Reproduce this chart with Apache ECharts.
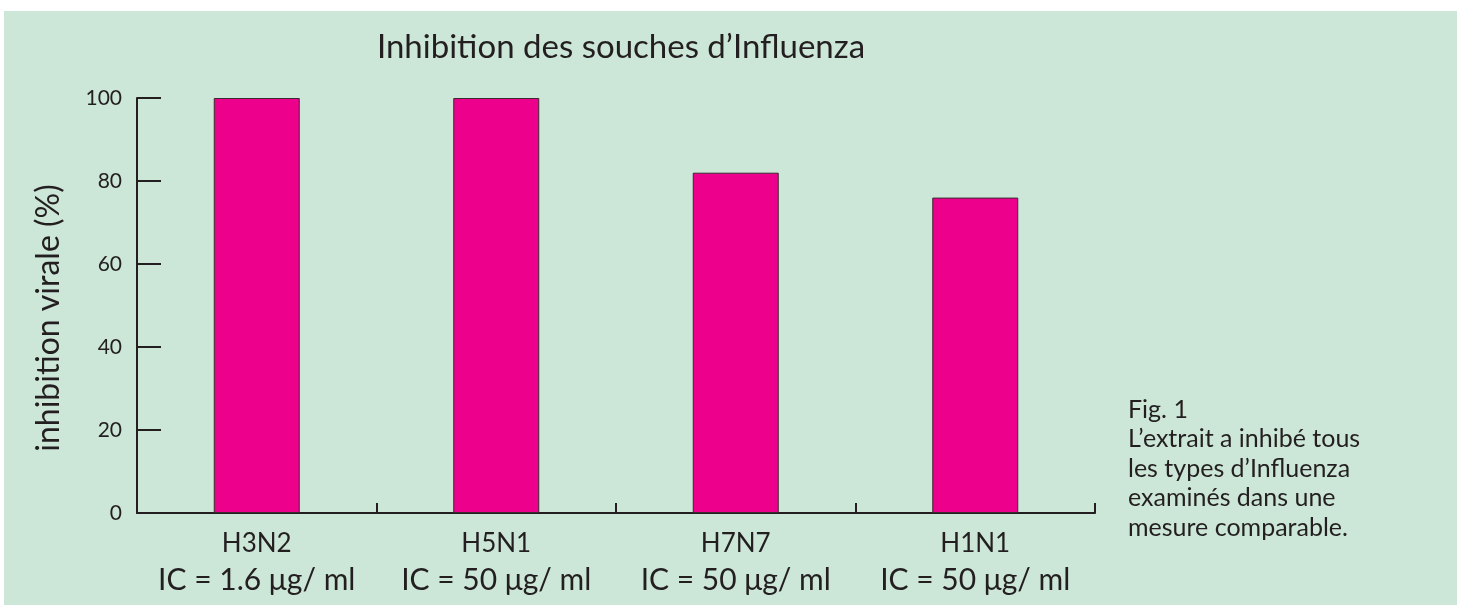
<!DOCTYPE html>
<html>
<head>
<meta charset="utf-8">
<script src="https://cdn.jsdelivr.net/npm/echarts@6/dist/echarts.min.js"></script>
<style>
  html, body { margin: 0; padding: 0; background: #ffffff; }
  #chart { width: 1457px; height: 605px; }
</style>
</head>
<body>
<div id="chart"></div>
<script>
// souches testées
var strains = ['H3N2', 'H5N1', 'H7N7', 'H1N1']
var icLabels = ['IC = 1.6 μg/ ml', 'IC = 50 μg/ ml', 'IC = 50 μg/ ml', 'IC = 50 μg/ ml']
var inhibition = [100, 100, 82, 76]
var yTicks = [0, 20, 40, 60, 80, 100]
var noteLines = ['Fig. 1', 'L’extrait a inhibé tous', 'les types d’Influenza', 'examinés dans une', 'mesure comparable.']

var ink = '#231f20'
var font = 'Lato'

var chart = echarts.init(document.getElementById('chart'))

var option = {
    animation: false,
    backgroundColor: 'transparent',
    title: {
        text: 'Inhibition des souches d’Influenza',
        left: 616,
        textAlign: 'center',
        top: 26,
        textStyle: {color: ink, fontFamily: font, fontWeight: 'normal', fontSize: 33}
    },
    grid: {left: 137, right: 362, top: 98, bottom: 92},
    xAxis: {
        type: 'category',
        data: strains,
        axisLine: {lineStyle: {color: ink, width: 2}},
        axisTick: {show: true, inside: true, length: 10, lineStyle: {color: ink, width: 2}},
        axisLabel: {
            margin: 14,
            formatter: function (v, i) {
                return '{a|' + v + '}\n{b|' + icLabels[i] + '}'
            },
            rich: {
                a: {fontFamily: font, fontSize: 26, color: ink, lineHeight: 34},
                b: {fontFamily: font, fontSize: 30, color: ink, lineHeight: 38}
            }
        }
    },
    yAxis: {
        type: 'value',
        min: 0,
        max: 100,
        interval: 20,
        name: 'inhibition virale (%)',
        nameLocation: 'middle',
        nameGap: 72,
        nameTextStyle: {fontFamily: font, fontSize: 32, color: ink, padding: [0, 25, 0, 0]},
        axisLine: {show: true, lineStyle: {color: ink, width: 2}},
        axisTick: {show: true, inside: true, length: 24, lineStyle: {color: ink, width: 2}},
        splitLine: {show: false},
        axisLabel: {
            margin: 15,
            fontFamily: font, fontSize: 21, color: ink,
            formatter: function (v) { return yTicks.indexOf(v) >= 0 ? String(v) : '' }
        }
    },
    series: [{
        type: 'bar',
        data: inhibition,
        barWidth: 86,
        itemStyle: {color: '#ec008c', borderColor: '#3a2a30', borderWidth: 1}
    }],
    graphic: [
        {
            type: 'rect', z: -10, silent: true,
            shape: {x: 4, y: 11, width: 1453, height: 594},
            style: {fill: '#cce6d8'}
        },
        {
            type: 'text', left: 1128, top: 395, silent: true,
            style: {
                text: noteLines.join('\n'),
                fontFamily: font, fontSize: 25, lineHeight: 29.5, fill: ink
            }
        }
    ]
}
chart.setOption(option)
</script>
</body>
</html>
